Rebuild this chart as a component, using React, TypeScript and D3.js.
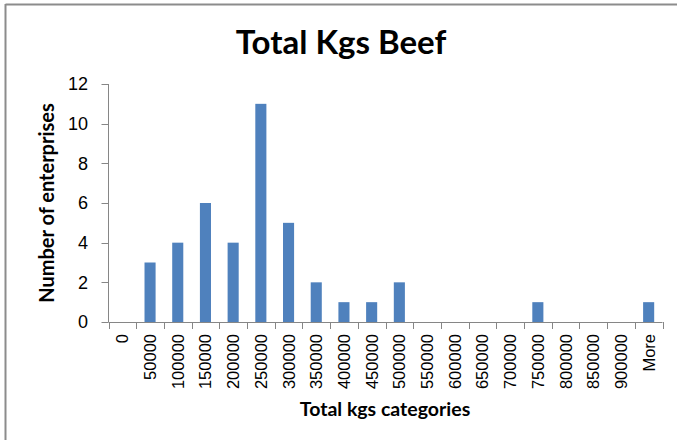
import React from "react";
import * as d3 from "d3";

const categories = ["0","50000","100000","150000","200000","250000","300000","350000","400000","450000","500000","550000","600000","650000","700000","750000","800000","850000","900000","More"];
const counts = [0,3,4,6,4,11,5,2,1,1,2,0,0,0,0,1,0,0,0,1];
const yTicks = [0,2,4,6,8,10,12];

const W = 677, H = 440;
const left = 108.5, right = 662.5, top = 84, bottom = 322;

export default function App() {
  const x = d3.scaleBand<string>().domain(categories).range([left, right]).paddingInner(0.6).paddingOuter(0.3);
  const band = (right - left) / categories.length;
  const y = d3.scaleLinear().domain([0, 12]).range([bottom, top]);
  const axisColor = "#868686";
  return (
    <svg width={W} height={H} style={{ position: "absolute", left: 0, top: 0 }}>
      <rect x={0} y={0} width={W} height={H} fill="#fff" />
      <line x1={5.5} y1={4.5} x2={W} y2={4.5} stroke="#8c8c8c" strokeWidth={2} />
      <line x1={5.5} y1={4} x2={5.5} y2={H} stroke="#8c8c8c" strokeWidth={2} />
      <text x={341} y={54} textAnchor="middle" fontFamily="Lato, 'Open Sans', sans-serif" fontWeight="bold" fontSize={33} fill="#000">Total Kgs Beef</text>
      {/* y axis */}
      <line x1={left} y1={top} x2={left} y2={bottom} stroke={axisColor} />
      {yTicks.map(t => (
        <g key={t}>
          <line x1={left - 7} x2={left} y1={Math.round(y(t)) + 0.5} y2={Math.round(y(t)) + 0.5} stroke={axisColor} />
          <text x={88} y={y(t) + 6.4} textAnchor="end" fontFamily="'Liberation Sans', Arial, sans-serif" fontSize={18} fill="#000">{t}</text>
        </g>
      ))}
      {/* bars */}
      {categories.map((c, i) => (
        counts[i] > 0 ? (
          <rect key={c} x={x(c)!} y={y(counts[i])} width={x.bandwidth()} height={bottom - y(counts[i])} fill="#4F81BD" />
        ) : null
      ))}
      {/* x axis */}
      <line x1={left} y1={bottom + 0.5} x2={right} y2={bottom + 0.5} stroke={axisColor} />
      {d3.range(categories.length + 1).map(i => (
        <line key={i} x1={Math.round(left + i * band) + 0.5} x2={Math.round(left + i * band) + 0.5} y1={bottom} y2={bottom + 7} stroke={axisColor} />
      ))}
      {categories.map((c, i) => (
        <text key={c} transform={`translate(${left + (i + 0.5) * band + 6},${334}) rotate(-90)`} textAnchor="end" fontFamily="'Liberation Sans', Arial, sans-serif" fontSize={16.5} fill="#000">{c}</text>
      ))}
      <text x={385} y={416} textAnchor="middle" fontFamily="Lato, 'Open Sans', sans-serif" fontWeight="bold" fontSize={19.5} fill="#000">Total kgs categories</text>
      <text transform={`translate(54,203) rotate(-90)`} textAnchor="middle" fontFamily="Lato, 'Open Sans', sans-serif" fontWeight="bold" fontSize={20} fill="#000">Number of enterprises</text>
    </svg>
  );
}
